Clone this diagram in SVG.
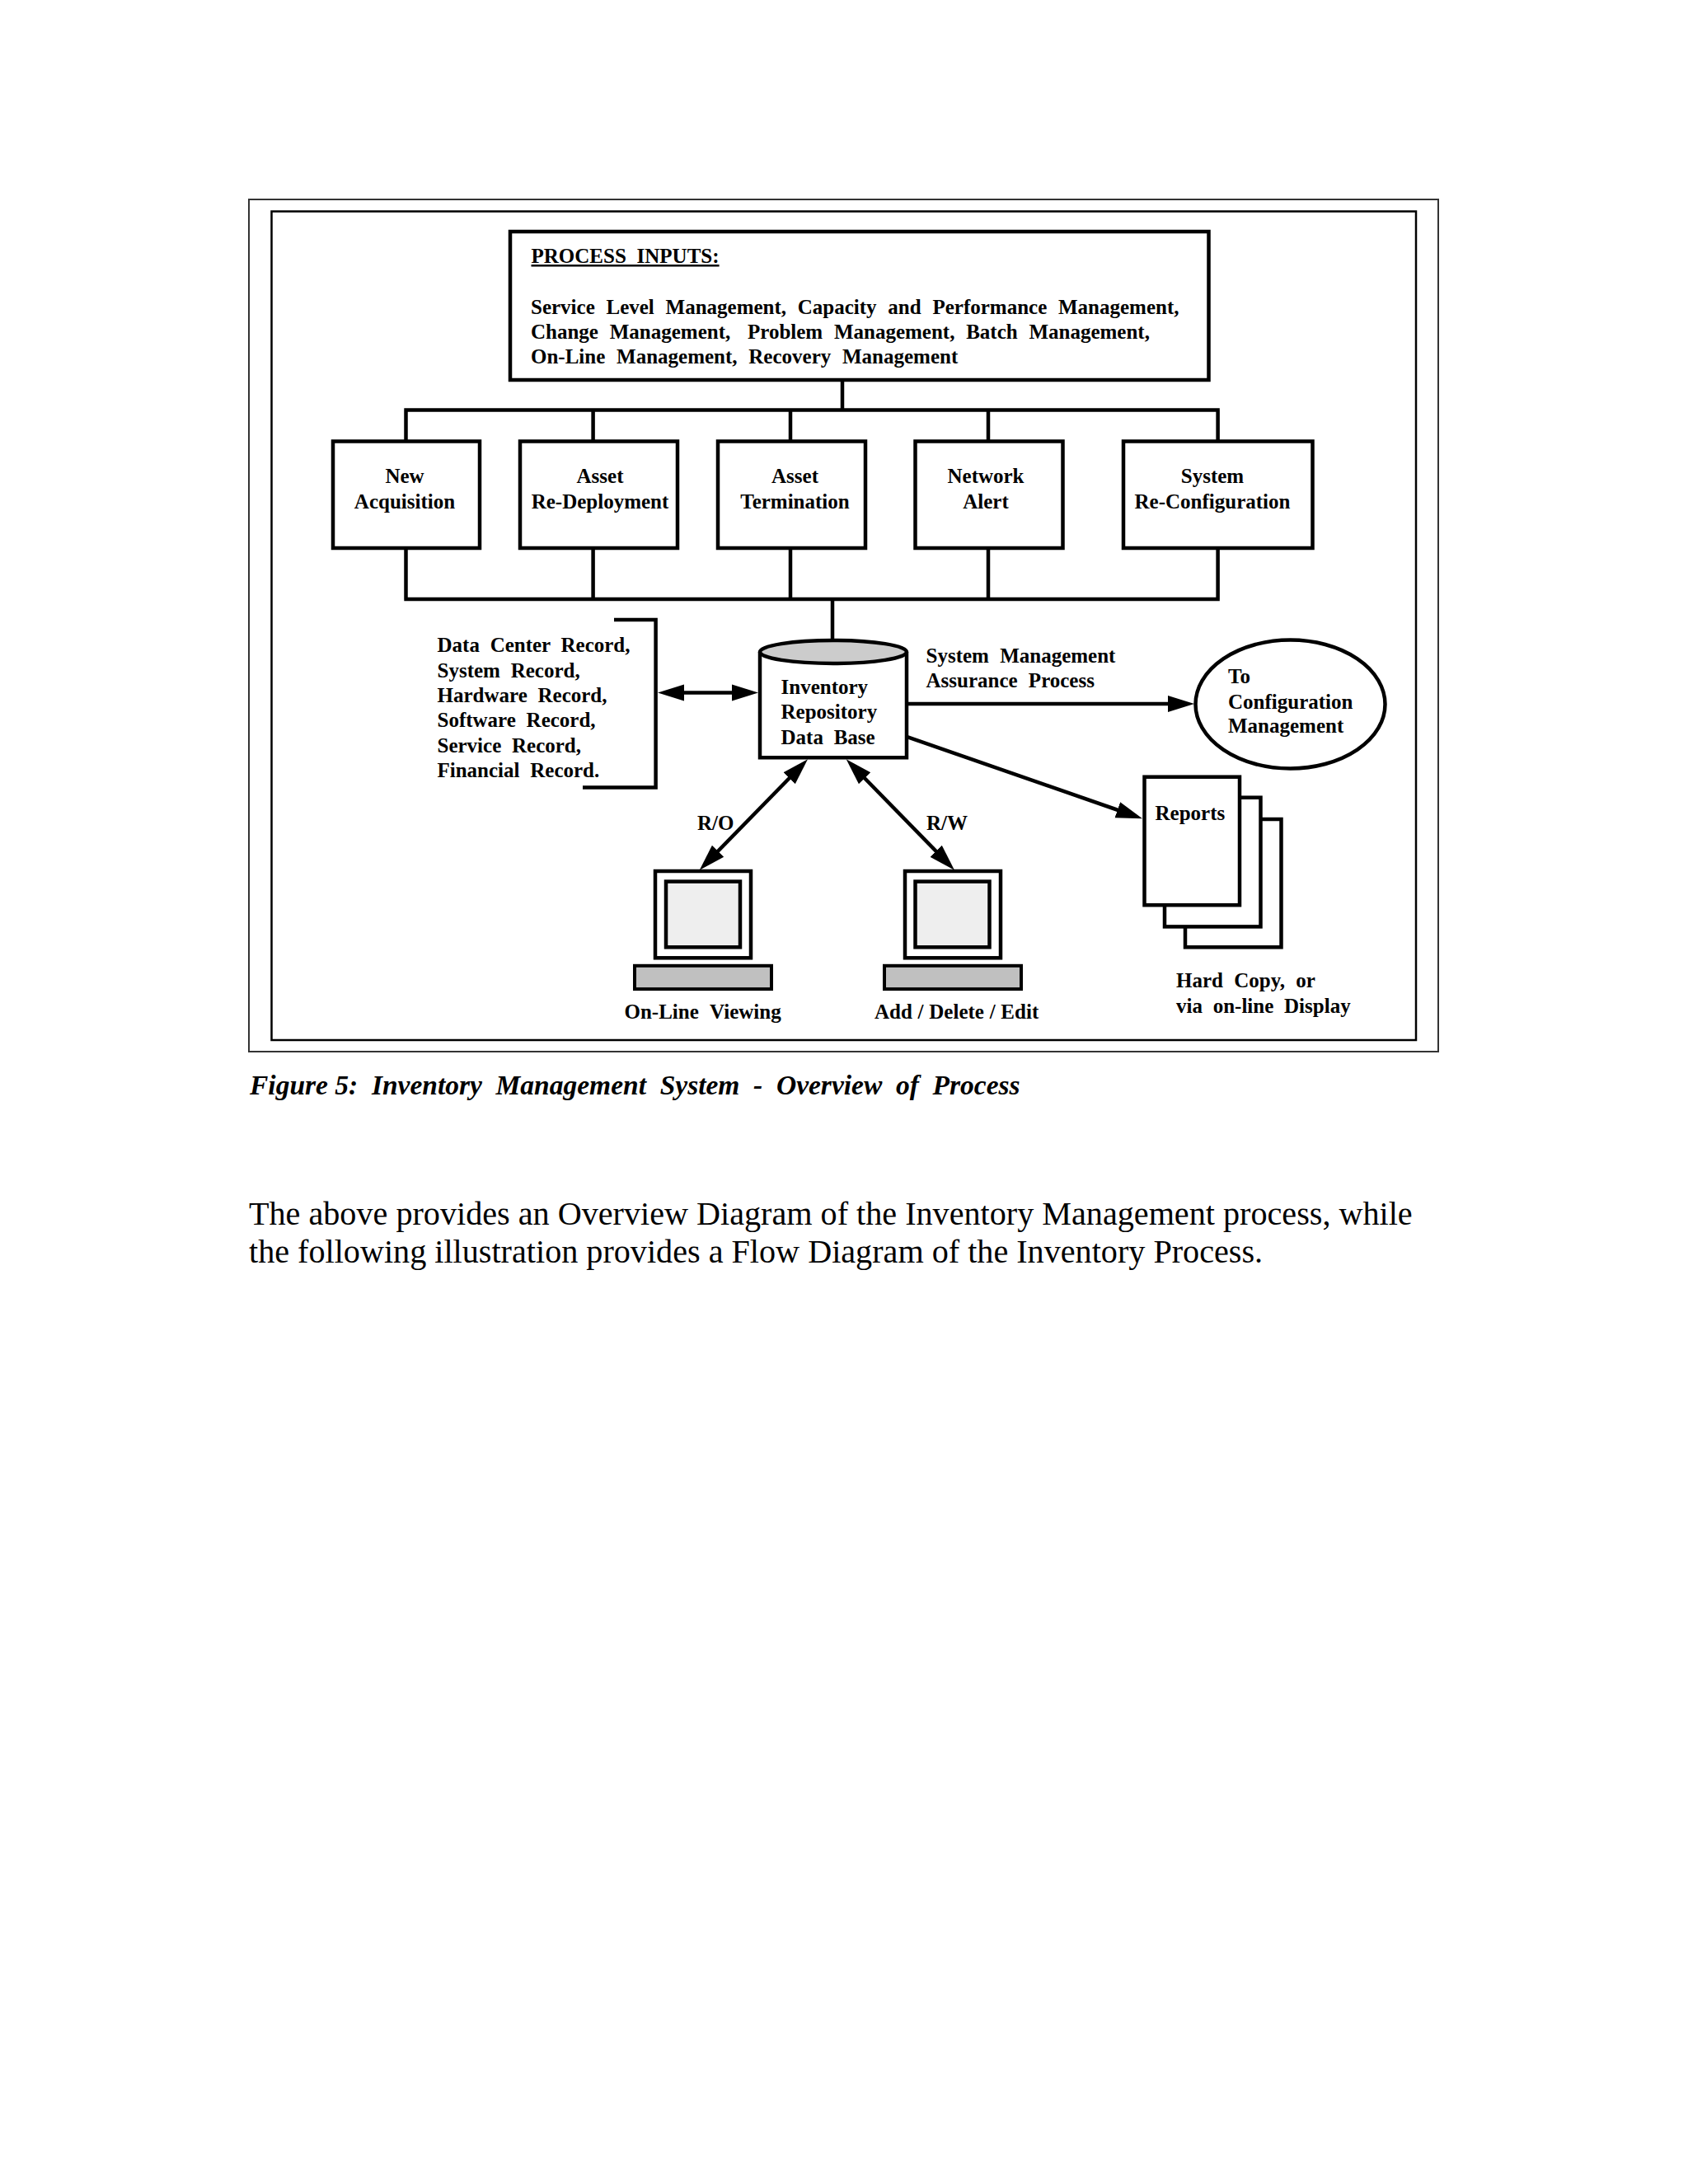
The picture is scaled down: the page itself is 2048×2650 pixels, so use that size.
<svg xmlns="http://www.w3.org/2000/svg" width="2048" height="2650" viewBox="0 0 2048 2650">
<style>
text{font-family:"Liberation Serif","Times New Roman",serif;font-size:25px;font-weight:bold;fill:#000;word-spacing:6.5px}
.c{text-anchor:middle}
.p{word-spacing:7.5px}
.b{fill:#fff;stroke:#000;stroke-width:4.500}
.l{fill:none;stroke:#000;stroke-width:4.500}
.a{fill:none;stroke:#000;stroke-width:4.500;marker-end:url(#h)}
.d{fill:none;stroke:#000;stroke-width:4.500;marker-start:url(#h);marker-end:url(#h)}
.cap{font-size:33.500px;font-style:italic;word-spacing:8.300px}
.body{font-size:40.160px;font-weight:normal;word-spacing:0}
</style>
<defs>
<marker id="h" markerUnits="userSpaceOnUse" markerWidth="34" markerHeight="22" viewBox="0 0 34 22" refX="22" refY="11" orient="auto-start-reverse"><path d="M0 1L32 11L0 21Z" fill="#000"/></marker>
</defs>
<rect width="2048" height="2650" fill="#fff"/>
<g id="frame">
<rect x="302" y="242" width="1443" height="1034" fill="none" stroke="#333" stroke-width="2"/>
<rect x="329.500" y="256.500" width="1388.500" height="1005.500" fill="none" stroke="#000" stroke-width="2.500"/>
</g>
<g id="process-inputs">
<rect class="b" x="619" y="281" width="847.500" height="180"/>
<text x="644.500" y="319" text-decoration="underline">PROCESS INPUTS:</text>
<text class="p" x="644" y="381">Service Level Management, Capacity and Performance Management,</text>
<text class="p" x="644" y="411">Change Management, <tspan dx="7">Problem</tspan> Management, Batch Management,</text>
<text class="p" x="644" y="441">On-Line Management, Recovery Management</text>
</g>
<g id="new-acquisition">
<rect class="b" x="404" y="535.500" width="178" height="129.500"/>
<text class="c" x="491" y="586">New</text><text class="c" x="491" y="617">Acquisition</text>
</g>
<g id="asset-redeployment">
<rect class="b" x="631" y="535.500" width="191" height="129.500"/>
<text class="c" x="728" y="586">Asset</text><text class="c" x="728" y="617">Re-Deployment</text>
</g>
<g id="asset-termination">
<rect class="b" x="871" y="535.500" width="179" height="129.500"/>
<text class="c" x="964.500" y="586">Asset</text><text class="c" x="964.500" y="617">Termination</text>
</g>
<g id="network-alert">
<rect class="b" x="1110.500" y="535.500" width="179" height="129.500"/>
<text class="c" x="1196" y="586">Network</text><text class="c" x="1196" y="617">Alert</text>
</g>
<g id="system-reconfiguration">
<rect class="b" x="1363" y="535.500" width="229.500" height="129.500"/>
<text class="c" x="1471" y="586">System</text><text class="c" x="1471" y="617">Re-Configuration</text>
</g>
<g id="records">
<text x="530.500" y="790.800">Data Center Record,</text>
<text x="530.500" y="821.600">System Record,</text>
<text x="530.500" y="852">Hardware Record,</text>
<text x="530.500" y="882.400">Software Record,</text>
<text x="530.500" y="912.800">Service Record,</text>
<text x="530.500" y="943">Financial Record.</text>
</g>
<g id="inventory-db">
<path class="b" d="M922 791V919.300H1100V791"/>
<ellipse cx="1011" cy="791" rx="89" ry="14" fill="#ccc" stroke="#000" stroke-width="4.500"/>
<text x="947.500" y="841.500">Inventory</text>
<text x="947.500" y="872.400">Repository</text>
<text x="947.500" y="902.800">Data Base</text>
</g>
<g id="assurance-label">
<text x="1123.500" y="803.700" style="word-spacing:7px">System Management</text>
<text x="1123.500" y="834" style="word-spacing:7px">Assurance Process</text>
</g>
<g id="config-mgmt">
<ellipse class="b" cx="1565.500" cy="854.500" rx="115" ry="78"/>
<text x="1490" y="828.600">To</text>
<text x="1490" y="859.500">Configuration</text>
<text x="1490" y="889.400">Management</text>
</g>
<g id="reports">
<rect class="b" x="1438" y="994" width="116.500" height="155.300"/>
<rect class="b" x="1413" y="967.700" width="116.500" height="156.700"/>
<rect class="b" x="1388.500" y="942.700" width="115.500" height="155.500"/>
<text x="1401.500" y="994.500">Reports</text>
<text x="1427" y="1198.200" style="word-spacing:7px">Hard Copy, or</text>
<text x="1427" y="1228.500">via on-line Display</text>
</g>
<g id="ro-label"><text x="846" y="1007">R/O</text></g>
<g id="rw-label"><text x="1124" y="1007">R/W</text></g>
<g id="online-viewing">
<rect class="b" x="795" y="1057" width="116" height="105.300"/>
<rect x="808" y="1069.600" width="90" height="79.700" fill="#eee" stroke="#000" stroke-width="4.500"/>
<rect x="770" y="1171.800" width="166" height="28.300" fill="#c0c0c0" stroke="#000" stroke-width="4"/>
<text x="757.500" y="1236" style="word-spacing:7.500px">On-Line Viewing</text>
</g>
<g id="add-delete-edit">
<rect class="b" x="1098" y="1057" width="116" height="105.300"/>
<rect x="1110.500" y="1069.600" width="90" height="79.700" fill="#eee" stroke="#000" stroke-width="4.500"/>
<rect x="1073" y="1171.800" width="166" height="28.300" fill="#c0c0c0" stroke="#000" stroke-width="4"/>
<text x="1061" y="1236" style="word-spacing:0.500px">Add / Delete / Edit</text>
</g>
<g id="connectors">
<path class="l" d="M1022 463V497.500M490.300 497.500H1479.800M492.500 497.500V535M719.600 497.500V535M959 497.500V535M1199 497.500V535M1477.600 497.500V535"/>
<path class="l" d="M492.500 665V727M719.600 665V727M959 665V727M1199 665V727M1477.600 665V727M490.300 727H1479.800M1010 727V777"/>
<path class="l" d="M745 752H795.600V955.600H707"/>
<path class="d" d="M808 840.500H910"/>
<path class="d" d="M973 928.500L855.700 1048.500"/>
<path class="d" d="M1033.700 928.500L1151 1048.500"/>
<path class="a" d="M1100 854H1439"/>
<path class="a" d="M1100 893.800L1376.600 990"/>
</g>
<g id="caption">
<text class="cap" x="303" y="1328"><tspan style="word-spacing:0">Figure </tspan>5: Inventory Management System - Overview of Process</text>
</g>
<g id="body-text">
<text class="body" x="302" y="1486">The above provides an Overview Diagram of the Inventory Management process, while</text>
<text class="body" x="302" y="1532">the following illustration provides a Flow Diagram of the Inventory Process.</text>
</g>
</svg>
